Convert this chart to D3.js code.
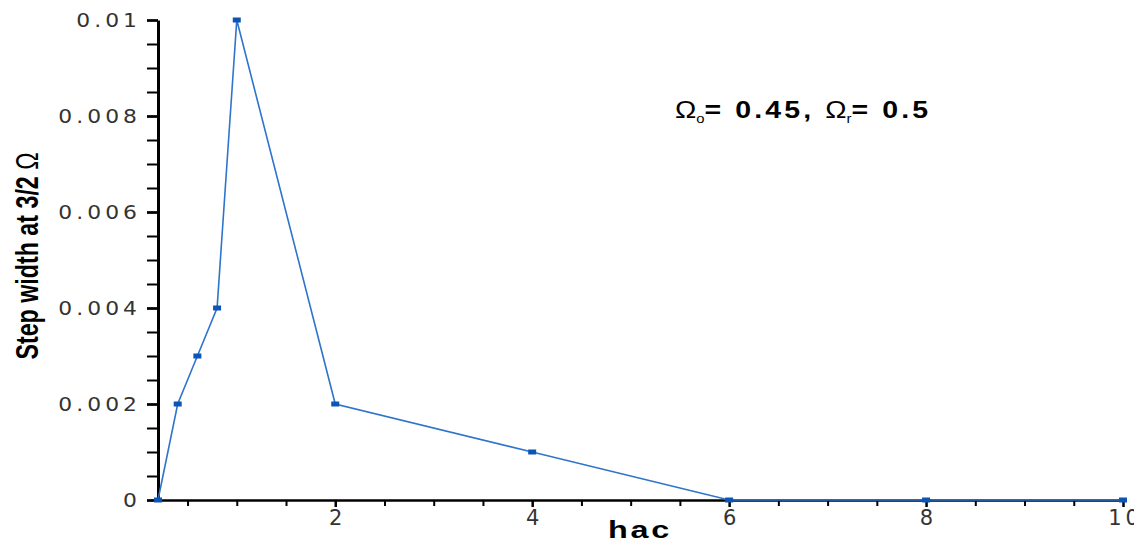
<!DOCTYPE html>
<html lang="en">
<head>
<meta charset="UTF-8">
<title>Step width vs hac</title>
<style>
body { margin: 0; background: #fff; }
svg { display: block; }
.axis path, .axis line { stroke: #000; }
.tick text { fill: #333; font-family: "DejaVu Sans", Verdana, sans-serif; }
</style>
</head>
<body>
<svg width="1134" height="544"></svg>
<script src="https://d3js.org/d3.v7.min.js"></script>
<script>
// data
var hac = [0.2, 0.4, 0.6, 0.8, 1, 2, 4, 6, 8, 10];
var stepWidth = [0, 0.002, 0.003, 0.004, 0.01, 0.002, 0.001, 0, 0, 0];
var xTicks = [2, 4, 6, 8, 10];
var yTicks = [0, 0.002, 0.004, 0.006, 0.008, 0.01];
var yTickLabels = ['0', '0.002', '0.004', '0.006', '0.008', '0.01'];

var svg = d3.select('svg');

var x = d3.scaleLinear().domain([0.2, 10]).range([158, 1123]);
var y = d3.scaleLinear().domain([0, 0.01]).range([500, 20]);

var data = hac.map(function(d, i) { return { x: d, y: stepWidth[i] }; });

// minor ticks
var xMinor = d3.range(0.5, 10.01, 0.5).filter(function(v) { return xTicks.indexOf(v) < 0; });
var yMinor = d3.range(0, 0.01001, 0.0005);

svg.append('g')
    .attr('transform', 'translate(0,500)')
    .attr('class', 'axis')
    .call(d3.axisBottom(x).tickValues(xMinor).tickSize(6).tickFormat(''))
    .call(function(g) { g.select('.domain').remove(); })
    .selectAll('line').attr('stroke-width', 2);

svg.append('g')
    .attr('transform', 'translate(158,0)')
    .attr('class', 'axis')
    .call(d3.axisLeft(y).tickValues(yMinor).tickSize(11).tickFormat(''))
    .call(function(g) { g.select('.domain').remove(); })
    .selectAll('line').attr('stroke-width', 2);

// major axes
var xAxis = svg.append('g')
    .attr('class', 'axis')
    .attr('transform', 'translate(0,500)')
    .call(d3.axisBottom(x).tickValues(xTicks).tickSize(7).tickSizeOuter(0).tickPadding(6));
xAxis.select('.domain').attr('stroke-width', 2.5);
xAxis.selectAll('line').attr('stroke-width', 2.5);
xAxis.selectAll('text')
    .attr('font-size', 21)
    .attr('letter-spacing', 4)
    .attr('dx', 2)
    .attr('dy', '0.55em');

var yAxis = svg.append('g')
    .attr('class', 'axis')
    .attr('transform', 'translate(158,0)')
    .call(d3.axisLeft(y).tickValues(yTicks).tickSize(11).tickSizeOuter(0).tickPadding(6)
        .tickFormat(function(d, i) { return yTickLabels[i]; }));
yAxis.select('.domain').attr('stroke-width', 3);
yAxis.selectAll('line').attr('stroke-width', 2.5);
yAxis.selectAll('text')
    .attr('font-size', 19)
    .attr('letter-spacing', 3.5)
    .attr('transform', 'scale(1.15,1)')
    .attr('x', -17 / 1.15);

// line
var line = d3.line()
    .x(function(d) { return x(d.x); })
    .y(function(d) { return y(d.y); });

svg.append('path')
    .datum(data)
    .attr('fill', 'none')
    .attr('stroke', '#2f74cc')
    .attr('stroke-width', 1.6)
    .attr('d', line);

svg.selectAll('.mark')
    .data(data)
    .enter().append('rect')
    .attr('class', 'mark')
    .attr('x', function(d) { return x(d.x) - 4; })
    .attr('y', function(d) { return y(d.y) - 2.5; })
    .attr('width', 8)
    .attr('height', 5)
    .attr('fill', '#0a55b5');

// axis titles
svg.append('text')
    .attr('transform', 'translate(640,538) scale(1.35,1)')
    .attr('text-anchor', 'middle')
    .attr('font-family', 'Liberation Sans, Arial, sans-serif')
    .attr('font-weight', 'bold')
    .attr('font-size', 24)
    .attr('letter-spacing', 2)
    .text('hac');

var yt = svg.append('text')
    .attr('transform', 'translate(38,256) rotate(-90) scale(0.75,1)')
    .attr('text-anchor', 'middle')
    .attr('font-family', 'Liberation Sans, Arial, sans-serif')
    .attr('font-size', 31);
yt.append('tspan').attr('font-weight', 'bold').text('Step width at 3/2 ');
yt.append('tspan').attr('font-weight', 'normal').text('\u03A9');

// annotation
var ann = svg.append('text')
    .attr('transform', 'translate(675,118) scale(1.24,1)')
    .attr('font-family', 'Liberation Sans, Arial, sans-serif')
    .attr('font-size', 23)
    .attr('letter-spacing', 2.5);
ann.append('tspan').attr('font-weight', 'normal').attr('letter-spacing', 0).text('\u03A9');
ann.append('tspan').attr('font-size', 12).attr('dy', 5).attr('letter-spacing', 0).text('o');
ann.append('tspan').attr('font-weight', 'bold').attr('dy', -5).text('= 0.45, ');
ann.append('tspan').attr('font-weight', 'normal').attr('letter-spacing', 0).text('\u03A9');
ann.append('tspan').attr('font-size', 12).attr('dy', 5).attr('letter-spacing', 0).text('r');
ann.append('tspan').attr('font-weight', 'bold').attr('dy', -5).text('= 0.5');
</script>
</body>
</html>
